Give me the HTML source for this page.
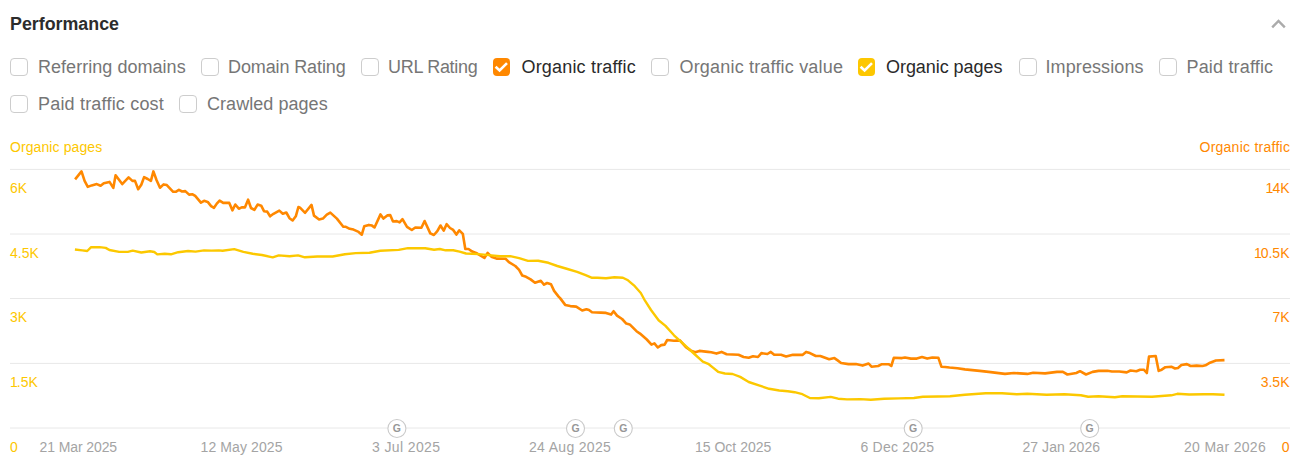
<!DOCTYPE html>
<html><head><meta charset="utf-8"><title>Performance</title>
<style>
html,body{margin:0;padding:0;background:#fff;}
body{width:1301px;height:471px;position:relative;overflow:hidden;font-family:"Liberation Sans",Arial,sans-serif;}
.title{position:absolute;font-weight:700;color:#2c2c2c;line-height:22px;white-space:nowrap;}
.chev{position:absolute;left:1270px;top:17px;}
.cb{position:absolute;width:16px;height:16px;border:1px solid #cdcdcd;border-radius:4px;box-sizing:content-box;background:#fff;}
.cb.on{border:none;width:17px;height:17.6px;}
.cb svg{position:absolute;left:0;top:0;}
.lbl{position:absolute;line-height:24px;color:#767676;white-space:nowrap;}
.lbl.on{color:#2a2a2a;}
.axt{position:absolute;line-height:18px;white-space:nowrap;top:137px;}
.yl{position:absolute;font-size:14px;line-height:18px;color:#fdc700;white-space:nowrap;}
.yr{position:absolute;font-size:14px;line-height:18px;color:#ff8800;white-space:nowrap;text-align:right;}
.dt{position:absolute;line-height:18px;color:#a4a4a4;white-space:nowrap;}
.n1{letter-spacing:-1px;}
svg.chart{position:absolute;left:0;top:0;}
</style></head><body>
<div id="title" class="title" style="left:10.0px;top:13px;font-size:17.83px;letter-spacing:0px">Performance</div>
<svg class="chev" width="18" height="14" viewBox="0 0 18 14"><path d="M2.2 10.3 L8.5 3.9 L14.8 10.3" fill="none" stroke="#ababab" stroke-width="2.4"/></svg>
<div class="cb" style="left:10px;top:58px"></div><div id="ref" class="lbl" style="left:38.0px;top:55px;font-size:18px;letter-spacing:0.037px">Referring domains</div><div class="cb" style="left:201px;top:58px"></div><div id="dom" class="lbl" style="left:228.0px;top:55px;font-size:18px;letter-spacing:-0.116px">Domain Rating</div><div class="cb" style="left:361px;top:58px"></div><div id="url" class="lbl" style="left:388.0px;top:55px;font-size:18px;letter-spacing:-0.289px">URL Rating</div><div class="cb on" style="left:493px;top:58px;background:#ff8800"><svg width="17" height="17.6" viewBox="0 0 17 17.6"><path d="M2.6 8.7 L6.6 12.5 L14.0 5.1" fill="none" stroke="#fff" stroke-width="2.6"/></svg></div><div id="ot" class="lbl on" style="left:521.5px;top:55px;font-size:18px;letter-spacing:0.178px">Organic traffic</div><div class="cb" style="left:651px;top:58px"></div><div id="otv" class="lbl" style="left:679.5px;top:55px;font-size:18px;letter-spacing:0.185px">Organic traffic value</div><div class="cb on" style="left:858px;top:58px;background:#fdc700"><svg width="17" height="17.6" viewBox="0 0 17 17.6"><path d="M2.6 8.7 L6.6 12.5 L14.0 5.1" fill="none" stroke="#fff" stroke-width="2.6"/></svg></div><div id="op" class="lbl on" style="left:886.0px;top:55px;font-size:18px;letter-spacing:-0.051px">Organic pages</div><div class="cb" style="left:1019px;top:58px"></div><div id="imp" class="lbl" style="left:1045.5px;top:55px;font-size:18px;letter-spacing:0.1px">Impressions</div><div class="cb" style="left:1159px;top:58px"></div><div id="pt" class="lbl" style="left:1186.5px;top:55px;font-size:18px;letter-spacing:0.172px">Paid traffic</div><div class="cb" style="left:10px;top:95px"></div><div id="ptc" class="lbl" style="left:38.0px;top:92px;font-size:18px;letter-spacing:0.193px">Paid traffic cost</div><div class="cb" style="left:179px;top:95px"></div><div id="cp" class="lbl" style="left:207.0px;top:92px;font-size:18px;letter-spacing:0.051px">Crawled pages</div>
<div id="axl" class="axt" style="top:138px;left:10.0px;font-size:14px;letter-spacing:0.092px;color:#fdc700">Organic pages</div>
<div id="axr" class="axt" style="top:138px;left:1199.5px;font-size:14px;letter-spacing:0.25px;color:#ff8800">Organic traffic</div>
<svg class="chart" width="1301" height="471" viewBox="0 0 1301 471">
<line x1="10" x2="1290" y1="169.4" y2="169.4" stroke="#e8e8e8" stroke-width="1"/><line x1="10" x2="1290" y1="234" y2="234" stroke="#e8e8e8" stroke-width="1"/><line x1="10" x2="1290" y1="298.5" y2="298.5" stroke="#e8e8e8" stroke-width="1"/><line x1="10" x2="1290" y1="363.4" y2="363.4" stroke="#e8e8e8" stroke-width="1"/><line x1="10" x2="1290" y1="428" y2="428" stroke="#e8e8e8" stroke-width="1"/>
<polyline points="75.1,179.4 81.5,171.4 84.6,180.9 87.8,186.9 91.7,185.4 96.8,184.1 100.6,185.8 103.8,183.2 109.5,181.9 113.3,187.9 115.6,175.2 122.2,184.1 128.6,177.4 132.4,180.9 135,180.9 138.2,189.2 141.3,184.7 144.1,177.1 147.7,179 150.9,180.9 153.4,171.4 156.6,180.3 160,187.7 163.6,184.4 166.8,185.1 173.2,191.8 175.7,191.8 178.9,189.8 182.1,191.5 185.3,191.1 189.1,194.6 192.6,194.3 195.2,195.9 200.9,202.7 204.1,200.8 207.7,201.9 211.1,206.1 214,207.8 216.8,203.6 219.6,200.6 223.2,202.9 229.3,202.9 232.4,210.3 235.3,204.5 238.8,208.7 241.7,207.4 244.9,207.4 248.1,199.7 251,208 254.4,209.9 257.6,204.6 261.2,205.7 264,211.2 267.2,211.6 270.1,216.3 273.5,213.8 279.3,210.6 282.8,213.8 286.3,212.5 289.5,218.2 292.6,220.5 295.8,216.3 298.4,207 300,207.7 305.1,212.8 311.5,204.9 314,215.6 319.1,219.5 322.9,218.6 326.8,214.7 330.3,212.6 336.9,218.6 343.3,226.8 345.9,226.8 349.7,228.8 353.5,229.6 358.6,231.9 361.8,234.7 364.3,226.2 368.8,224.9 372,225.6 374.5,227.5 380.5,214.4 383.4,218.6 387.3,215.4 390.2,215.1 393,221.5 396.8,221.1 399.6,222.4 402.5,219.2 407,226.8 411.8,230 415.3,227.5 421.4,227.8 424.6,221 430.3,233.4 433.9,235 437.3,231.2 440.5,225.5 443.7,230.6 446.6,224.2 450,228 453.2,229.9 456.4,234.6 459.3,230.3 462.8,233.8 465.3,249 468.5,249 472.3,251.6 476.1,252.9 484.4,258 487.6,252.9 491.4,256.7 496.5,258.6 505.7,258.8 508.9,262.2 515.3,266 519.1,269.8 522.3,275.6 526.1,276.8 530.6,279.4 535,282.8 540.8,280.7 544,284.7 547.1,283 551,284.2 554.1,290.9 558.6,296.6 560.1,298.1 565.2,304.9 570.3,306.1 576.2,306.6 582.2,310.5 586.4,309.2 589,310 592,312.2 600.9,312.6 606,312.9 611.1,314.6 613.6,311.2 617,315.6 622.1,319 626.3,323.6 629.7,324.4 636.5,331.2 640,333.6 646.8,339.5 651.5,344.6 654.4,343.4 657.8,347.5 661.2,345.1 664.6,344.6 667.2,340 674,340.7 679.9,340.4 685.9,347.2 691,350.6 695.2,352.3 699.4,350.9 707.9,351.9 711.3,352.3 716.4,353.6 721.5,351.9 726.6,354.3 738.5,354.8 743.6,357 748.7,357.7 753,356.2 758,357 761.4,353.1 767.4,354 770.8,351.9 774.2,354.8 781,354.8 786.1,356.5 792.9,354.8 802.4,354.9 806.1,351.9 809.9,353.1 815.8,356 820.3,356 829.2,359.3 834.4,358.1 837.3,360.1 841.1,363 848.5,364.1 855.9,364.1 862.6,365.6 868.6,363.5 871.5,366.7 878.2,366 881.9,364.2 888.6,364.2 891.3,366 893.8,357.8 902,358.1 905,357.5 910.9,358.6 916.8,358.6 922,357.1 927.2,358.6 932.4,357.5 938.4,357.8 941.4,366.7 945.1,367 949.5,367.5 957.4,368.2 964.9,369.4 979.7,370.9 988.6,371.9 1005,373.9 1013.9,373 1027.3,373.9 1033.2,372.7 1045.1,373.4 1057,371.9 1062.9,371.9 1067.4,374.5 1076.3,373 1080,371.2 1086,374.5 1092.6,371.9 1098.6,370.9 1107.4,370.8 1111.9,371.5 1119.3,371.5 1126.7,372.4 1130.5,370.5 1136.4,371.2 1140.1,369.7 1143.8,369.7 1146.8,373 1149,356.6 1155.7,356 1158.7,370.9 1161.7,369.7 1165.4,367.2 1171.3,366.7 1175,368.5 1178,367.9 1181.4,365 1186.9,364.1 1190.6,366 1196.6,365.6 1202.5,366 1205.5,365.3 1210,362.7 1215.9,360.5 1224.5,360.1" fill="none" stroke="#ff8800" stroke-width="2.6" stroke-linejoin="round" stroke-linecap="butt"/>
<polyline points="74.9,249.5 82.3,250.4 87.2,251 90.9,247.3 99.5,247.1 105.7,247.9 109.4,250 119.2,251.9 127.8,251.9 132.7,250.7 141.3,252.5 150,251.2 154.3,252 157.3,254.4 164.7,253.7 170.9,254.3 178.2,252.2 188.1,251 195.5,251.6 204.1,250.4 211.5,250.6 218.8,250.4 222.5,250.7 234.2,249.1 243.4,251.9 252.7,253.8 261.9,255 272.7,257.3 278.8,255.4 289.6,256.2 298,255.4 304.9,257.3 317.2,256.5 332.6,256.5 344.9,254.2 355.7,253.1 369.5,252.7 380.3,250.7 398.7,249.9 407.9,248.1 425.2,248.2 434.1,249.7 439.8,249 445.6,250.3 453.2,250.3 459.6,251.6 466,253.5 478.7,254.1 491.4,255.4 500,256.2 510.2,256.2 519.1,258.1 528,260.9 538.2,260.7 548.4,262.8 557.3,266 567.5,269 577.1,271.8 585.6,275.2 591.5,277.7 597.5,277.7 606,278.2 614.4,277.2 622.9,277.7 628,280.3 634.8,286.2 640.8,293 645,300.7 651,310 658.6,320.2 665.5,325.9 674,335.3 684.2,344.6 694.4,354 702.8,361.6 708.8,364.2 713,367.6 718.1,371.8 724.9,373.5 732.6,374 740.2,376.9 748.7,382 758.9,385.4 769.1,388.8 779.3,390.5 787.8,391.3 794.6,392.2 802.4,394.2 809.9,398 818.8,398.2 830.7,396.9 838.1,398.7 847,399.4 860.4,399.1 870.8,399.7 884.2,398.8 899,398.4 913.9,398 922.8,396.8 937.6,396.5 950,396.2 964.9,394.7 985.7,393.2 1002,393.2 1016.9,394.2 1027.3,393.8 1046.6,394.7 1064.4,394.2 1080.8,395.3 1088.2,396.8 1098.6,396.2 1114.9,397.2 1122.3,396.2 1137.1,396.5 1152,396.8 1171.3,395.3 1177.3,393.8 1189.2,394.5 1204,394.2 1212.9,394.2 1224.5,394.7" fill="none" stroke="#fcc800" stroke-width="2.4" stroke-linejoin="round" stroke-linecap="butt"/>
<g transform="translate(396.9,428.5)"><circle r="9" fill="#fff" stroke="#cacaca" stroke-width="1.1"/><text x="0" y="3.4" text-anchor="middle" font-family="Liberation Sans, sans-serif" font-weight="700" font-size="10.5" fill="#979797">G</text></g><g transform="translate(575.5,428.5)"><circle r="9" fill="#fff" stroke="#cacaca" stroke-width="1.1"/><text x="0" y="3.4" text-anchor="middle" font-family="Liberation Sans, sans-serif" font-weight="700" font-size="10.5" fill="#979797">G</text></g><g transform="translate(623.3,428.5)"><circle r="9" fill="#fff" stroke="#cacaca" stroke-width="1.1"/><text x="0" y="3.4" text-anchor="middle" font-family="Liberation Sans, sans-serif" font-weight="700" font-size="10.5" fill="#979797">G</text></g><g transform="translate(913.2,428.5)"><circle r="9" fill="#fff" stroke="#cacaca" stroke-width="1.1"/><text x="0" y="3.4" text-anchor="middle" font-family="Liberation Sans, sans-serif" font-weight="700" font-size="10.5" fill="#979797">G</text></g><g transform="translate(1089.7,428.5)"><circle r="9" fill="#fff" stroke="#cacaca" stroke-width="1.1"/><text x="0" y="3.4" text-anchor="middle" font-family="Liberation Sans, sans-serif" font-weight="700" font-size="10.5" fill="#979797">G</text></g>
</svg>
<div class="yl" style="left:10px;top:179px">6K</div><div class="yr" style="right:11.5px;top:179px"><span class="n1">1</span>4K</div><div class="yl" style="left:10px;top:243.5px">4.5K</div><div class="yr" style="right:11.5px;top:243.5px"><span class="n1">1</span>0.5K</div><div class="yl" style="left:10px;top:308px">3K</div><div class="yr" style="right:11.5px;top:308px">7K</div><div class="yl" style="left:10px;top:373px"><span class="n1">1</span>.5K</div><div class="yr" style="right:11.5px;top:373px">3.5K</div><div class="yl" style="left:10px;top:438px">0</div><div class="yr" style="right:11.5px;top:438px">0</div>
<div id="d1" class="dt" style="left:39.5px;top:438px;font-size:14px;letter-spacing:-0.1px">21 Mar 2025</div><div id="d2" class="dt" style="left:200.5px;top:438px;font-size:14px;letter-spacing:0.11px">12 May 2025</div><div id="d3" class="dt" style="left:372.0px;top:438px;font-size:14px;letter-spacing:0.378px">3 Jul 2025</div><div id="d4" class="dt" style="left:529.0px;top:438px;font-size:14px;letter-spacing:0.32px">24 Aug 2025</div><div id="d5" class="dt" style="left:695.0px;top:438px;font-size:14px;letter-spacing:0.0px">15 Oct 2025</div><div id="d6" class="dt" style="left:860.5px;top:438px;font-size:14px;letter-spacing:0.211px">6 Dec 2025</div><div id="d7" class="dt" style="left:1022.5px;top:438px;font-size:14px;letter-spacing:0.05px">27 Jan 2026</div><div id="d8" class="dt" style="left:1184.0px;top:438px;font-size:14px;letter-spacing:0.31px">20 Mar 2026</div>
</body></html>
